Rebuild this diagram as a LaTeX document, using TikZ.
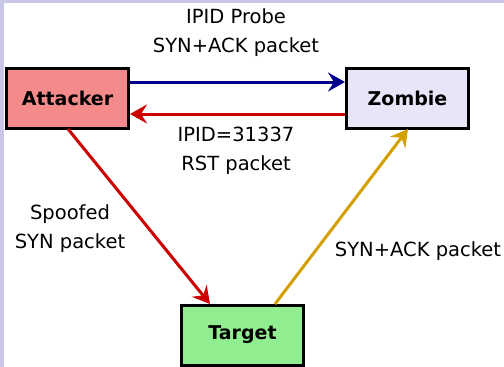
\documentclass[tikz,border=0pt]{standalone}
\usepackage{fontspec}
\setmainfont{DejaVu Sans}
\usetikzlibrary{arrows.meta}
\definecolor{bgl}{RGB}{200,200,230}
\definecolor{attf}{RGB}{244,138,138}
\definecolor{zomf}{RGB}{230,230,248}
\definecolor{tarf}{RGB}{144,238,144}
\definecolor{navyc}{RGB}{0,0,140}
\definecolor{redc}{RGB}{204,0,0}
\definecolor{goldc}{RGB}{212,160,0}
\begin{document}
\begin{tikzpicture}[x=1pt,y=-1pt,
  box/.style={draw=black,line width=3pt,minimum width=122pt,minimum height=60pt,inner sep=0pt,font=\fontsize{19}{22}\selectfont\bfseries},
  lbl/.style={font=\fontsize{19.5}{29}\selectfont,align=center,inner sep=0pt},
  arr/.style={line width=3pt,-{Stealth[length=17pt,width=19pt,inset=6pt]}}]
\useasboundingbox (0,0) rectangle (504,367);
\fill[bgl] (0,0) rectangle (504,367);
\fill[white] (4,3) rectangle (504,367);
\node[box,fill=attf] (att) at (67.5,98) {Attacker};
\node[box,fill=zomf] (zom) at (407.5,98) {Zombie};
\node[box,fill=tarf] (tar) at (242.5,335) {Target};
\coordinate (a1) at (att.east |- 0,82);
\coordinate (z1) at (zom.west |- 0,82);
\coordinate (a2) at (att.east |- 0,114);
\coordinate (z2) at (zom.west |- 0,114);
\draw[arr,navyc] (a1) -- (z1);
\draw[arr,redc] (z2) -- (a2);
\coordinate (as) at (68,129);
\coordinate (te) at (210,304);
\draw[arr,redc] (as) -- (te);
\coordinate (ts) at (275,304);
\coordinate (ze) at (408,129);
\draw[arr,goldc] (ts) -- (ze);
\node[lbl] (l1) at (236,33) {IPID Probe\\SYN+ACK packet};
\node[lbl] (l2) at (236,151) {IPID=31337\\RST packet};
\node[lbl] (l3) at (70,229) {Spoofed\\SYN packet};
\node[lbl] (l4) at (418,251) {SYN+ACK packet};
\end{tikzpicture}
\end{document}
